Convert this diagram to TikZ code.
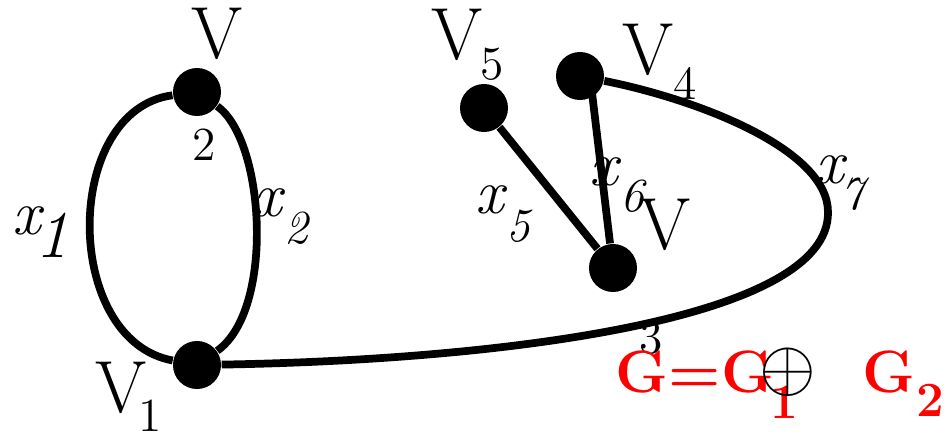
\documentclass[tikz,border=0pt]{standalone}
\usepackage{tikz}
\usetikzlibrary{positioning}

\begin{document}
\begin{tikzpicture}[
        x=0.01cm, y=-0.01cm,
        every node/.style={inner sep=0pt},
        vert/.style={circle, fill=black, minimum size=0.48cm},
        edge/.style={line width=2.2pt},
        vname/.style={font=\fontsize{21}{24}\selectfont},
        vsub/.style={font=\fontsize{13.5}{15}\selectfont},
        ename/.style={font=\fontsize{18}{20}\selectfont\itshape},
        esub/.style={font=\fontsize{13.5}{15}\selectfont\itshape},
        gname/.style={red, font=\fontsize{17}{20}\selectfont\bfseries},
        gsub/.style={red, font=\fontsize{14}{16}\selectfont\bfseries}
    ]
        \useasboundingbox (0,0) rectangle (950,436);
        % vertices
        \node[vert] (v2) at (197,92) {};
        \node[vert] (v1) at (197,365) {};
        \node[vert] (v5) at (484,108) {};
        \node[vert] (v4) at (580,76) {};
        \node[vert] (v3) at (613,268) {};
        % edges
        \draw[edge] (v2) .. controls (62,110) and (62,340) .. (v1);
        \draw[edge] (v2) .. controls (265,140) and (275,310) .. (v1);
        \draw[edge] (v5) -- (v3);
        \draw[edge] ([xshift=0.1cm]v4.center) -- (v3);
        \coordinate (bend) at (828,212);
        \draw[edge] (v1) .. controls (500,360) and (830,320) .. (bend)
            .. controls (828,150) and (700,100) .. (v4);
        % vertex names
        \node[vname] (l2) at (217,34) {V};
        \node[vsub] (s2) at (204,145) {2};
        \node[vname] (l1) at (121,388) {V};
        \node[vsub] (s1) at (150,416) {1};
        \node[vname] (l5) at (457,35) {V};
        \node[vsub] (s5) at (492,64) {5};
        \node[vname] (l4) at (648,50) {V};
        \node[vsub] (s4) at (685,83) {4};
        \node[vname] (l3) at (665,225) {V};
        \node[vsub] (s3) at (651,338) {3};
        % edge names
        \node[ename] (x1) at (27,221) {x};
        \node[ename, font=\fontsize{19}{21}\selectfont\itshape] (i1) at (52,235) {1};
        \node[ename] (x2) at (268,203) {x};
        \node[esub] (i2) at (296,228) {2};
        \node[ename] (x5) at (490,200) {x};
        \node[esub] (i5) at (518,226) {5};
        \node[ename] (x6) at (604,172) {x};
        \node[esub] (i6) at (632,196) {6};
        \node[ename] (x7) at (830,170) {x};
        \node[esub] (i7) at (852,194) {7};
        % sum
        \node[gname] (gg) at (695,372) {G=G};
        \node[gsub] (g1) at (784,402) {1};
        \node[font=\fontsize{22}{24}\selectfont] (op) at (788,372) {$\oplus$};
        \node[gname] (g2n) at (889,372) {G};
        \node[gsub] (g2) at (930,400) {2};
    \end{tikzpicture}
\end{document}
